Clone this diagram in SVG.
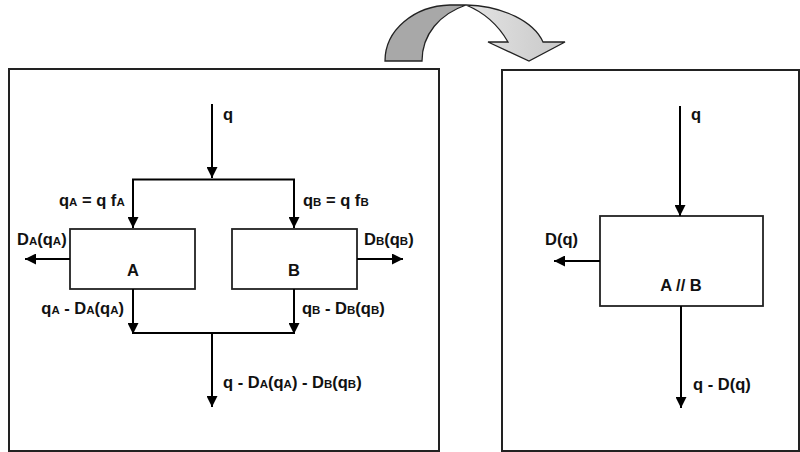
<svg xmlns="http://www.w3.org/2000/svg" width="800" height="452" viewBox="0 0 800 452">
<defs>
<marker id="ah" markerWidth="11" markerHeight="11" viewBox="0 0 11 11" refX="11" refY="5.5" orient="auto" markerUnits="userSpaceOnUse">
<path d="M0,0 L11,5.5 L0,11 Z" fill="#000"/>
</marker>
<linearGradient id="gl" x1="0" y1="0" x2="1" y2="0">
<stop offset="0" stop-color="#e4e4e4"/>
<stop offset="1" stop-color="#c8c8c8"/>
</linearGradient>
</defs>
<style>
.frame{fill:#fff;stroke:#222;stroke-width:2}
.box{fill:#fff;stroke:#222;stroke-width:1.8}
.ln{fill:none;stroke:#000;stroke-width:2}
.t{font-family:"Liberation Sans",Arial,sans-serif;font-weight:bold;font-size:16.5px;fill:#111}
.s{font-size:11.5px}
</style>
<rect width="800" height="452" fill="#fff"/>
<g id="curved-arrow" stroke="#222" stroke-width="1.3" stroke-linejoin="miter">
<path d="M385,61 C385,30 414,6 450,5 L466,5 C440,14 422,34 422,61 Z" fill="#a8a8a8"/>
<path d="M466,5 C504,6 534,22 543,42 L565,42 L529,61 L488,42 L508,42 C500,28 488,14 466,5 Z" fill="url(#gl)"/>
</g>
<g id="left-frame"><rect class="frame" x="9" y="69" width="430" height="382"/></g>
<g id="right-frame"><rect class="frame" x="502" y="70" width="297" height="381"/></g>
<g id="box-A"><rect class="box" x="70" y="229" width="125" height="60"/><text class="t" x="133" y="276" text-anchor="middle">A</text></g>
<g id="box-B"><rect class="box" x="232" y="229" width="125" height="60"/><text class="t" x="294" y="276" text-anchor="middle">B</text></g>
<g id="box-AB"><rect class="box" x="600" y="216" width="163" height="90"/><text class="t" x="681" y="291" text-anchor="middle">A // B</text></g>
<g id="connectors">
<path class="ln" d="M212,104 V178" marker-end="url(#ah)"/>
<path class="ln" d="M133,181 V179.5 H294 V181" />
<path class="ln" d="M133,179 V228" marker-end="url(#ah)"/>
<path class="ln" d="M294,179 V228" marker-end="url(#ah)"/>
<path class="ln" d="M70,259 H25" marker-end="url(#ah)"/>
<path class="ln" d="M357,259 H403" marker-end="url(#ah)"/>
<path class="ln" d="M133,289 V334" marker-end="url(#ah)"/>
<path class="ln" d="M294,289 V334" marker-end="url(#ah)"/>
<path class="ln" d="M133,333 H294"/>
<path class="ln" d="M212,333 V407" marker-end="url(#ah)"/>
<path class="ln" d="M680,106 V216" marker-end="url(#ah)"/>
<path class="ln" d="M600,261 H554" marker-end="url(#ah)"/>
<path class="ln" d="M681,306 V408" marker-end="url(#ah)"/>
</g>
<g id="labels">
<text class="t" x="223" y="120">q</text>
<text class="t" x="59" y="206">q<tspan class="s">A</tspan> = q f<tspan class="s">A</tspan></text>
<text class="t" x="303" y="206">q<tspan class="s">B</tspan> = q f<tspan class="s">B</tspan></text>
<text class="t" x="17" y="245">D<tspan class="s">A</tspan>(q<tspan class="s">A</tspan>)</text>
<text class="t" x="364" y="245">D<tspan class="s">B</tspan>(q<tspan class="s">B</tspan>)</text>
<text class="t" x="124" y="314" text-anchor="end">q<tspan class="s">A</tspan> - D<tspan class="s">A</tspan>(q<tspan class="s">A</tspan>)</text>
<text class="t" x="302" y="314">q<tspan class="s">B</tspan> - D<tspan class="s">B</tspan>(q<tspan class="s">B</tspan>)</text>
<text class="t" x="223" y="388">q - D<tspan class="s">A</tspan>(q<tspan class="s">A</tspan>) - D<tspan class="s">B</tspan>(q<tspan class="s">B</tspan>)</text>
<text class="t" x="691" y="120">q</text>
<text class="t" x="545" y="245">D(q)</text>
<text class="t" x="693" y="390">q - D(q)</text>
</g>
</svg>
